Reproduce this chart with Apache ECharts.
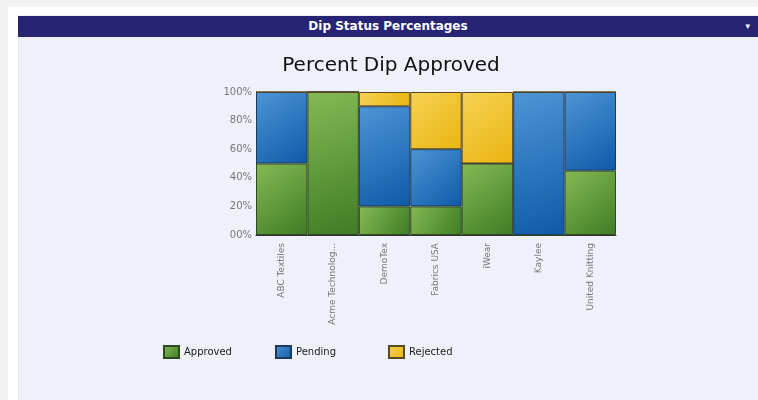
<!DOCTYPE html>
<html>
<head>
<meta charset="utf-8">
<script src="https://cdn.jsdelivr.net/npm/echarts@6/dist/echarts.min.js"></script>
<style>
  html, body { margin: 0; padding: 0; }
  body { width: 758px; height: 400px; background: #f2f2f2; position: relative; overflow: hidden; }
  #frame { position: absolute; left: 8px; top: 7px; width: 750px; height: 393px; background: #ffffff; }
  #panel { position: absolute; left: 18px; top: 15px; width: 740px; height: 385px; background: #eef1f9; border-left: 1px solid #e2e4ee; }
  #head { position: absolute; left: 18px; top: 16px; width: 740px; height: 21px; background: #272475;
          color: #fff; font: bold 12px "DejaVu Sans", sans-serif; text-align: center; line-height: 21px; }
  #head span { position: absolute; right: 8px; top: 0; font-size: 9px; }
  #chart { position: absolute; left: 0; top: 0; width: 758px; height: 400px; }
</style>
</head>
<body>
<div id="frame"></div>
<div id="panel"></div>
<div id="head">Dip Status Percentages<span>▾</span></div>
<div id="chart"></div>
<script>
const companies = ["ABC Textiles", "Acme Technolog...", "DemoTex", "Fabrics USA", "iWear", "Kaylee", "United Knitting"];
const approved = [50, 100, 20, 20, 50, 0, 45];
const pending = [50, 0, 70, 40, 0, 100, 55];
const rejected = [0, 0, 10, 40, 50, 0, 0];

function grad(light, dark) {
  return new echarts.graphic.LinearGradient(0, 0, 1, 1, [
    { offset: 0, color: light },
    { offset: 1, color: dark }
  ]);
}

function legendAt(name, left) {
  return {
    left: left,
    top: 345,
    padding: 0,
    itemWidth: 15,
    itemHeight: 12,
    icon: "rect",
    textStyle: { fontSize: 10, color: "#222", fontFamily: "DejaVu Sans" },
    data: [name]
  };
}

const chart = echarts.init(document.getElementById("chart"));
chart.setOption({
  animation: false,
  title: {
    text: "Percent Dip Approved",
    left: 386,
    textAlign: "center",
    top: 51,
    textStyle: { fontSize: 20, fontWeight: "normal", color: "#111", fontFamily: "DejaVu Sans" }
  },
  grid: { left: 256, right: 142, top: 92, bottom: 165 },
  legend: [legendAt("Approved", 163), legendAt("Pending", 275), legendAt("Rejected", 388)],
  xAxis: {
    type: "category",
    data: companies,
    axisLine: { lineStyle: { color: "#333" } },
    axisTick: { show: false },
    axisLabel: { rotate: 90, fontSize: 9, color: "#777", margin: 8, fontFamily: "DejaVu Sans" }
  },
  yAxis: {
    type: "value",
    min: 0,
    max: 100,
    interval: 20,
    axisLine: { show: true, lineStyle: { color: "#333" } },
    axisTick: { show: false },
    splitLine: { show: false },
    axisLabel: {
      fontSize: 10, color: "#777", margin: 4, fontFamily: "DejaVu Sans",
      formatter: v => String(v).padStart(2, "0") + "%"
    }
  },
  series: [
    {
      name: "Approved", type: "bar", stack: "s", data: approved, barCategoryGap: "0%",
      itemStyle: { color: grad("#86b954", "#3f7c25"), borderColor: "#2f4a20", borderWidth: 1 }
    },
    {
      name: "Pending", type: "bar", stack: "s", data: pending,
      itemStyle: { color: grad("#4d95d6", "#0f5aa8"), borderColor: "#1f3a55", borderWidth: 1 }
    },
    {
      name: "Rejected", type: "bar", stack: "s", data: rejected,
      itemStyle: { color: grad("#f6d154", "#e9b510"), borderColor: "#5a4a20", borderWidth: 1 }
    }
  ]
});
</script>
</body>
</html>
